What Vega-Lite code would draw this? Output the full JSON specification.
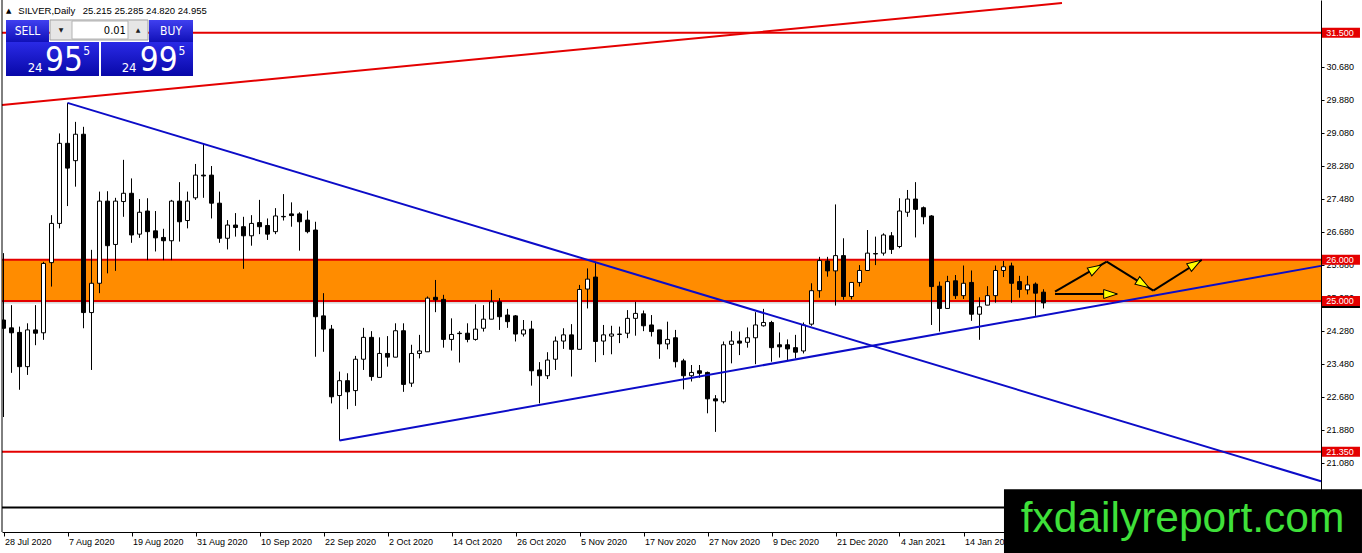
{
  "$schema": "https://vega.github.io/schema/vega-lite/v6.json",
  "width": 1319,
  "height": 532,
  "autosize": {"type": "none"},
  "padding": {"left": 2, "top": 0, "right": 41, "bottom": 21},
  "background": "#ffffff",
  "config": {
    "view": {"stroke": null},
    "font": "Liberation Sans",
    "scale": {"continuousPadding": 0},
    "axis": {"labelFont": "Liberation Sans", "labelFontSize": 9, "labelColor": "#000000", "tickColor": "#000000", "domainColor": "#000000", "grid": false, "labelOverlap": false},
    "axisX": {"labelOverlap": false},
    "axisY": {"labelOverlap": false}
  },
  "datasets": {
    "candles": [
      {"i":0,"o":24.54,"h":26.16,"l":22.19,"c":24.34},
      {"i":1,"o":24.35,"h":24.90,"l":23.26,"c":24.23},
      {"i":2,"o":24.24,"h":24.38,"l":22.85,"c":23.41},
      {"i":3,"o":23.41,"h":24.46,"l":23.21,"c":24.30},
      {"i":4,"o":24.30,"h":24.90,"l":23.93,"c":24.22},
      {"i":5,"o":24.23,"h":25.95,"l":24.06,"c":25.91},
      {"i":6,"o":25.93,"h":27.08,"l":25.35,"c":26.88},
      {"i":7,"o":26.88,"h":29.06,"l":26.76,"c":28.82},
      {"i":8,"o":28.82,"h":29.80,"l":27.30,"c":28.22},
      {"i":9,"o":28.40,"h":29.34,"l":27.77,"c":29.04},
      {"i":10,"o":29.04,"h":29.22,"l":24.34,"c":24.72},
      {"i":11,"o":24.72,"h":26.24,"l":23.33,"c":25.43},
      {"i":12,"o":25.43,"h":27.65,"l":25.19,"c":27.42},
      {"i":13,"o":27.42,"h":27.66,"l":25.67,"c":26.34},
      {"i":14,"o":26.37,"h":27.50,"l":25.73,"c":27.42},
      {"i":15,"o":27.41,"h":28.42,"l":27.04,"c":27.61},
      {"i":16,"o":27.61,"h":27.97,"l":26.41,"c":26.60},
      {"i":17,"o":26.62,"h":27.47,"l":26.53,"c":27.15},
      {"i":18,"o":27.18,"h":27.49,"l":25.99,"c":26.68},
      {"i":19,"o":26.70,"h":27.18,"l":26.20,"c":26.53},
      {"i":20,"o":26.54,"h":26.75,"l":25.99,"c":26.46},
      {"i":21,"o":26.46,"h":27.45,"l":25.99,"c":27.42},
      {"i":22,"o":27.42,"h":27.88,"l":26.44,"c":26.92},
      {"i":23,"o":26.95,"h":27.65,"l":26.76,"c":27.42},
      {"i":24,"o":27.50,"h":28.32,"l":27.45,"c":28.05},
      {"i":25,"o":28.05,"h":28.82,"l":27.50,"c":28.03},
      {"i":26,"o":28.05,"h":28.27,"l":27.00,"c":27.37},
      {"i":27,"o":27.37,"h":27.65,"l":26.41,"c":26.52},
      {"i":28,"o":26.52,"h":26.96,"l":26.25,"c":26.84},
      {"i":29,"o":26.84,"h":27.13,"l":26.56,"c":26.78},
      {"i":30,"o":26.80,"h":27.04,"l":25.78,"c":26.58},
      {"i":31,"o":26.58,"h":27.08,"l":26.34,"c":26.88},
      {"i":32,"o":26.90,"h":27.45,"l":26.62,"c":26.80},
      {"i":33,"o":26.83,"h":27.00,"l":26.48,"c":26.62},
      {"i":34,"o":26.68,"h":27.25,"l":26.62,"c":27.06},
      {"i":35,"o":27.05,"h":27.59,"l":26.95,"c":27.04},
      {"i":36,"o":27.11,"h":27.39,"l":26.80,"c":27.07},
      {"i":37,"o":27.11,"h":27.15,"l":26.22,"c":26.92},
      {"i":38,"o":26.96,"h":27.19,"l":26.64,"c":26.68},
      {"i":39,"o":26.72,"h":26.92,"l":23.65,"c":24.62},
      {"i":40,"o":24.64,"h":25.19,"l":23.77,"c":24.32},
      {"i":41,"o":24.32,"h":24.42,"l":22.52,"c":22.68},
      {"i":42,"o":22.71,"h":23.29,"l":21.62,"c":23.07},
      {"i":43,"o":23.07,"h":23.25,"l":22.38,"c":22.80},
      {"i":44,"o":22.83,"h":23.67,"l":22.46,"c":23.59},
      {"i":45,"o":23.59,"h":24.35,"l":23.33,"c":24.12},
      {"i":46,"o":24.12,"h":24.27,"l":23.07,"c":23.17},
      {"i":47,"o":23.15,"h":24.12,"l":23.15,"c":23.73},
      {"i":48,"o":23.73,"h":24.15,"l":23.41,"c":23.64},
      {"i":49,"o":23.64,"h":24.46,"l":23.64,"c":24.28},
      {"i":50,"o":24.28,"h":24.46,"l":22.80,"c":22.98},
      {"i":51,"o":23.01,"h":23.94,"l":22.92,"c":23.73},
      {"i":52,"o":23.73,"h":24.18,"l":23.61,"c":23.79},
      {"i":53,"o":23.77,"h":25.11,"l":23.77,"c":25.07},
      {"i":54,"o":25.09,"h":25.51,"l":24.73,"c":25.03},
      {"i":55,"o":25.04,"h":25.15,"l":23.87,"c":24.07},
      {"i":56,"o":24.07,"h":24.58,"l":23.80,"c":24.19},
      {"i":57,"o":24.22,"h":24.27,"l":23.51,"c":24.21},
      {"i":58,"o":24.22,"h":24.46,"l":24.00,"c":24.07},
      {"i":59,"o":24.07,"h":24.92,"l":24.04,"c":24.32},
      {"i":60,"o":24.34,"h":24.90,"l":24.26,"c":24.56},
      {"i":61,"o":24.56,"h":25.27,"l":24.56,"c":24.98},
      {"i":62,"o":24.98,"h":25.07,"l":24.30,"c":24.62},
      {"i":63,"o":24.66,"h":24.81,"l":24.35,"c":24.50},
      {"i":64,"o":24.64,"h":24.66,"l":24.02,"c":24.20},
      {"i":65,"o":24.20,"h":24.54,"l":24.14,"c":24.30},
      {"i":66,"o":24.32,"h":24.52,"l":22.95,"c":23.31},
      {"i":67,"o":23.33,"h":23.52,"l":22.52,"c":23.19},
      {"i":68,"o":23.19,"h":23.76,"l":23.11,"c":23.57},
      {"i":69,"o":23.59,"h":24.14,"l":23.33,"c":24.03},
      {"i":70,"o":24.03,"h":24.34,"l":23.84,"c":24.18},
      {"i":71,"o":24.18,"h":24.44,"l":23.17,"c":23.83},
      {"i":72,"o":23.83,"h":25.39,"l":23.83,"c":25.28},
      {"i":73,"o":25.29,"h":25.79,"l":24.82,"c":25.53},
      {"i":74,"o":25.58,"h":25.95,"l":23.52,"c":24.02},
      {"i":75,"o":24.03,"h":24.42,"l":23.69,"c":24.18},
      {"i":76,"o":24.15,"h":24.40,"l":23.71,"c":24.20},
      {"i":77,"o":24.19,"h":24.38,"l":23.98,"c":24.20},
      {"i":78,"o":24.22,"h":24.78,"l":24.10,"c":24.58},
      {"i":79,"o":24.58,"h":24.98,"l":24.16,"c":24.70},
      {"i":80,"o":24.69,"h":24.77,"l":24.27,"c":24.40},
      {"i":81,"o":24.42,"h":24.66,"l":24.14,"c":24.26},
      {"i":82,"o":24.30,"h":24.30,"l":23.60,"c":23.96},
      {"i":83,"o":23.96,"h":24.50,"l":23.83,"c":24.07},
      {"i":84,"o":24.11,"h":24.30,"l":23.39,"c":23.53},
      {"i":85,"o":23.55,"h":23.60,"l":22.86,"c":23.19},
      {"i":86,"o":23.19,"h":23.45,"l":23.05,"c":23.27},
      {"i":87,"o":23.31,"h":23.45,"l":23.14,"c":23.25},
      {"i":88,"o":23.27,"h":23.29,"l":22.28,"c":22.63},
      {"i":89,"o":22.63,"h":22.72,"l":21.83,"c":22.58},
      {"i":90,"o":22.56,"h":24.02,"l":22.52,"c":23.94},
      {"i":91,"o":23.95,"h":24.27,"l":23.49,"c":24.03},
      {"i":92,"o":24.03,"h":24.26,"l":23.69,"c":23.98},
      {"i":93,"o":24.00,"h":24.36,"l":23.87,"c":24.11},
      {"i":94,"o":24.11,"h":24.73,"l":23.47,"c":24.42},
      {"i":95,"o":24.40,"h":24.81,"l":24.38,"c":24.48},
      {"i":96,"o":24.48,"h":24.52,"l":23.53,"c":23.87},
      {"i":97,"o":23.94,"h":24.24,"l":23.63,"c":23.89},
      {"i":98,"o":23.94,"h":24.07,"l":23.57,"c":23.84},
      {"i":99,"o":23.87,"h":24.18,"l":23.61,"c":23.76},
      {"i":100,"o":23.79,"h":24.48,"l":23.73,"c":24.42},
      {"i":101,"o":24.44,"h":25.43,"l":24.40,"c":25.25},
      {"i":102,"o":25.25,"h":26.07,"l":25.08,"c":25.98},
      {"i":103,"o":25.97,"h":26.07,"l":25.59,"c":25.73},
      {"i":104,"o":25.73,"h":27.34,"l":24.89,"c":26.10},
      {"i":105,"o":26.10,"h":26.52,"l":25.03,"c":25.11},
      {"i":106,"o":25.11,"h":25.45,"l":25.04,"c":25.45},
      {"i":107,"o":25.45,"h":25.87,"l":25.35,"c":25.74},
      {"i":108,"o":25.74,"h":26.72,"l":25.74,"c":26.16},
      {"i":109,"o":26.15,"h":26.56,"l":25.87,"c":26.14},
      {"i":110,"o":26.16,"h":26.64,"l":26.10,"c":26.60},
      {"i":111,"o":26.58,"h":26.67,"l":26.14,"c":26.25},
      {"i":112,"o":26.32,"h":27.49,"l":26.28,"c":27.18},
      {"i":113,"o":27.15,"h":27.69,"l":27.04,"c":27.47},
      {"i":114,"o":27.47,"h":27.88,"l":26.54,"c":27.22},
      {"i":115,"o":27.26,"h":27.29,"l":26.86,"c":27.04},
      {"i":116,"o":27.06,"h":27.08,"l":24.42,"c":25.35},
      {"i":117,"o":25.36,"h":25.47,"l":24.26,"c":24.82},
      {"i":118,"o":24.82,"h":25.61,"l":24.82,"c":25.47},
      {"i":119,"o":25.49,"h":25.63,"l":25.05,"c":25.13},
      {"i":120,"o":25.13,"h":25.86,"l":25.05,"c":25.43},
      {"i":121,"o":25.45,"h":25.74,"l":24.52,"c":24.68},
      {"i":122,"o":24.68,"h":25.09,"l":24.06,"c":24.86},
      {"i":123,"o":24.90,"h":25.36,"l":24.90,"c":25.13},
      {"i":124,"o":25.13,"h":25.86,"l":24.96,"c":25.74},
      {"i":125,"o":25.74,"h":25.97,"l":25.58,"c":25.83},
      {"i":126,"o":25.85,"h":25.93,"l":24.96,"c":25.43},
      {"i":127,"o":25.47,"h":25.61,"l":25.08,"c":25.28},
      {"i":128,"o":25.27,"h":25.61,"l":25.16,"c":25.39},
      {"i":129,"o":25.41,"h":25.45,"l":24.64,"c":25.19},
      {"i":130,"o":25.215,"h":25.285,"l":24.82,"c":24.955}
    ],
    "levels": [{"p": 31.5}, {"p": 26.0}, {"p": 25.0}, {"p": 21.35}]
  },
  "layer": [
    {
      "data": {"values": [{}]},
      "mark": {"type": "rect", "color": "#ff8c00"},
      "encoding": {
        "x": {
          "datum": -0.1875, "type": "quantitative",
          "scale": {"domain": [-0.1875, 164.6875], "nice": false, "zero": false, "padding": 0},
          "axis": {
            "orient": "bottom", "title": null,
            "values": [0, 8, 16, 24, 32, 40, 48, 56, 64, 72, 80, 88, 96, 104, 112, 120],
            "labelExpr": "['28 Jul 2020','7 Aug 2020','19 Aug 2020','31 Aug 2020','10 Sep 2020','22 Sep 2020','2 Oct 2020','14 Oct 2020','26 Oct 2020','5 Nov 2020','17 Nov 2020','27 Nov 2020','9 Dec 2020','21 Dec 2020','4 Jan 2021','14 Jan 2021'][round(datum.value / 8)]",
            "tickSize": 4, "labelAlign": "left", "labelBaseline": "top", "labelPadding": 1, "labelOffset": 1,
            "labelFlush": false, "labelOverlap": false
          }
        },
        "x2": {"datum": 164.6875},
        "y": {
          "datum": 25.0, "type": "quantitative",
          "scale": {"domain": [19.4046, 32.292], "nice": false, "zero": false, "padding": 0},
          "axis": {
            "orient": "right", "title": null,
            "values": [30.68, 29.88, 29.08, 28.28, 27.48, 26.68, 25.88, 25.08, 24.28, 23.48, 22.68, 21.88, 21.08],
            "format": ".3f", "tickSize": 3, "labelPadding": 2, "labelAlign": "left", "labelBaseline": "middle",
            "labelFlush": false, "labelOverlap": false
          }
        },
        "y2": {"datum": 26.0}
      }
    },
    {
      "data": {"values": [{}]},
      "mark": {"type": "rule", "color": "#c0c0c0", "strokeWidth": 1},
      "encoding": {"y": {"datum": 24.955}}
    },
    {
      "data": {"name": "levels"},
      "mark": {"type": "rule", "color": "#e40000", "strokeWidth": 2},
      "encoding": {"y": {"field": "p", "type": "quantitative", "title": null, "axis": {"labelOverlap": false}}}
    },
    {
      "data": {"values": [{}]},
      "mark": {"type": "rule", "color": "#000000", "strokeWidth": 2},
      "encoding": {"y": {"datum": 20.0}}
    },
    {
      "data": {"name": "candles"},
      "mark": {"type": "rule", "color": "#000000", "strokeWidth": 1, "clip": true},
      "encoding": {
        "x": {"field": "i", "type": "quantitative", "title": null, "axis": {"labelOverlap": false}},
        "y": {"field": "l", "type": "quantitative", "title": null, "axis": {"labelOverlap": false}},
        "y2": {"field": "h"}
      }
    },
    {
      "data": {"name": "candles"},
      "mark": {"type": "bar", "orient": "vertical", "size": 4, "stroke": "#000000", "strokeWidth": 1, "clip": true},
      "encoding": {
        "x": {"field": "i", "type": "quantitative", "title": null, "axis": {"labelOverlap": false}},
        "y": {"field": "o", "type": "quantitative", "title": null, "axis": {"labelOverlap": false}},
        "y2": {"field": "c"},
        "fill": {"condition": {"test": "datum.c < datum.o", "value": "#000000"}, "value": "#ffffff"}
      }
    },
    {
      "data": {"values": [{}]},
      "mark": {"type": "rule", "color": "#e40000", "strokeWidth": 2},
      "encoding": {"x": {"datum": -0.1875}, "y": {"datum": 29.75}, "x2": {"datum": 132.31}, "y2": {"datum": 32.22}}
    },
    {
      "data": {"values": [{}]},
      "mark": {"type": "rule", "color": "#0c0cc8", "strokeWidth": 2},
      "encoding": {"x": {"datum": 8}, "y": {"datum": 29.80}, "x2": {"datum": 164.6875}, "y2": {"datum": 20.633}}
    },
    {
      "data": {"values": [{}]},
      "mark": {"type": "rule", "color": "#0c0cc8", "strokeWidth": 2},
      "encoding": {"x": {"datum": 42}, "y": {"datum": 21.62}, "x2": {"datum": 164.6875}, "y2": {"datum": 25.851}}
    },
    {
      "data": {"values": [{}]},
      "mark": {"type": "rule", "color": "#000000", "strokeWidth": 2},
      "encoding": {"x": {"datum": 131.44}, "y": {"datum": 25.226}, "x2": {"datum": 137.9}, "y2": {"datum": 25.953}}
    },
    {
      "data": {"values": [{}]},
      "mark": {"type": "rule", "color": "#000000", "strokeWidth": 2},
      "encoding": {"x": {"datum": 137.9}, "y": {"datum": 25.953}, "x2": {"datum": 143.73}, "y2": {"datum": 25.25}}
    },
    {
      "data": {"values": [{}]},
      "mark": {"type": "rule", "color": "#000000", "strokeWidth": 2},
      "encoding": {"x": {"datum": 143.73}, "y": {"datum": 25.25}, "x2": {"datum": 149.78}, "y2": {"datum": 25.994}}
    },
    {
      "data": {"values": [{}]},
      "mark": {"type": "rule", "color": "#000000", "strokeWidth": 2},
      "encoding": {"x": {"datum": 131.44}, "y": {"datum": 25.17}, "x2": {"datum": 139.15}, "y2": {"datum": 25.17}}
    },
    {
      "data": {"values": [{}]},
      "mark": {"type": "point", "shape": "M1,0L-1,-0.65L-1,0.65Z", "size": 190, "filled": true, "fill": "#ffff00", "stroke": "#000000", "strokeWidth": 1, "opacity": 1, "angle": -30},
      "encoding": {"x": {"datum": 136.5}, "y": {"datum": 25.788}}
    },
    {
      "data": {"values": [{}]},
      "mark": {"type": "point", "shape": "M1,0L-1,-0.65L-1,0.65Z", "size": 190, "filled": true, "fill": "#ffff00", "stroke": "#000000", "strokeWidth": 1, "opacity": 1, "angle": 32},
      "encoding": {"x": {"datum": 142.46}, "y": {"datum": 25.41}}
    },
    {
      "data": {"values": [{}]},
      "mark": {"type": "point", "shape": "M1,0L-1,-0.65L-1,0.65Z", "size": 190, "filled": true, "fill": "#ffff00", "stroke": "#000000", "strokeWidth": 1, "opacity": 1, "angle": -32},
      "encoding": {"x": {"datum": 148.93}, "y": {"datum": 25.899}}
    },
    {
      "data": {"values": [{}]},
      "mark": {"type": "point", "shape": "M1,0L-1,-0.65L-1,0.65Z", "size": 190, "filled": true, "fill": "#ffff00", "stroke": "#000000", "strokeWidth": 1, "opacity": 1, "angle": 0},
      "encoding": {"x": {"datum": 138.38}, "y": {"datum": 25.17}}
    },
    {
      "data": {"values": [{}]},
      "mark": {"type": "rule", "color": "#000000", "strokeWidth": 1},
      "encoding": {"x": {"datum": -0.1875}}
    },
    {
      "data": {"values": [{}]},
      "mark": {"type": "rect", "fill": {"gradient": "linear", "x1": 0, "y1": 0, "x2": 0, "y2": 1, "stops": [{"offset": 0, "color": "#4040f0"}, {"offset": 1, "color": "#1010b8"}]}},
      "encoding": {"x": {"datum": 0.3125}, "x2": {"datum": 5.6875}, "y": {"datum": 31.808}, "y2": {"datum": 31.275}}
    },
    {
      "data": {"values": [{}]},
      "mark": {"type": "rect", "fill": {"gradient": "linear", "x1": 0, "y1": 0, "x2": 0, "y2": 1, "stops": [{"offset": 0, "color": "#4040f0"}, {"offset": 1, "color": "#1010b8"}]}},
      "encoding": {"x": {"datum": 18.1875}, "x2": {"datum": 23.6875}, "y": {"datum": 31.808}, "y2": {"datum": 31.275}}
    },
    {
      "data": {"values": [{}]},
      "mark": {"type": "rect", "fill": {"gradient": "linear", "x1": 0, "y1": 0, "x2": 0, "y2": 1, "stops": [{"offset": 0, "color": "#2a2ae6"}, {"offset": 1, "color": "#0808a8"}]}},
      "encoding": {"x": {"datum": 0.3125}, "x2": {"datum": 11.9375}, "y": {"datum": 31.275}, "y2": {"datum": 30.451}}
    },
    {
      "data": {"values": [{}]},
      "mark": {"type": "rect", "fill": {"gradient": "linear", "x1": 0, "y1": 0, "x2": 0, "y2": 1, "stops": [{"offset": 0, "color": "#2a2ae6"}, {"offset": 1, "color": "#0808a8"}]}},
      "encoding": {"x": {"datum": 12.1875}, "x2": {"datum": 23.6875}, "y": {"datum": 31.275}, "y2": {"datum": 30.451}}
    },
    {
      "data": {"values": [{}]},
      "mark": {"type": "rect", "fill": "#e6e6e6", "stroke": "#a0a0a0", "strokeWidth": 1},
      "encoding": {"x": {"datum": 5.8125}, "x2": {"datum": 18.0625}, "y": {"datum": 31.808}, "y2": {"datum": 31.323}}
    },
    {
      "data": {"values": [{}]},
      "mark": {"type": "rect", "fill": "#ffffff", "stroke": "#b4b4b4", "strokeWidth": 1},
      "encoding": {"x": {"datum": 8.5625}, "x2": {"datum": 15.5625}, "y": {"datum": 31.783}, "y2": {"datum": 31.347}}
    },
    {
      "data": {"values": [{}]},
      "mark": {"type": "text", "text": "SELL", "font": "DejaVu Sans Condensed, Liberation Sans Narrow, Liberation Sans", "fontSize": 12, "color": "#ffffff", "align": "center", "baseline": "middle"},
      "encoding": {"x": {"datum": 3.0}, "y": {"datum": 31.541}}
    },
    {
      "data": {"values": [{}]},
      "mark": {"type": "text", "text": "BUY", "font": "DejaVu Sans Condensed, Liberation Sans Narrow, Liberation Sans", "fontSize": 12, "color": "#ffffff", "align": "center", "baseline": "middle"},
      "encoding": {"x": {"datum": 20.94}, "y": {"datum": 31.541}}
    },
    {
      "data": {"values": [{}]},
      "mark": {"type": "text", "text": "0.01", "font": "DejaVu Sans Condensed, Liberation Sans", "fontSize": 11, "color": "#000000", "align": "right", "baseline": "middle"},
      "encoding": {"x": {"datum": 15.3}, "y": {"datum": 31.553}}
    },
    {
      "data": {"values": [{}]},
      "mark": {"type": "text", "text": "▼", "font": "DejaVu Sans", "fontSize": 6, "color": "#202020", "align": "center", "baseline": "middle"},
      "encoding": {"x": {"datum": 7.19}, "y": {"datum": 31.565}}
    },
    {
      "data": {"values": [{}]},
      "mark": {"type": "text", "text": "▲", "font": "DejaVu Sans", "fontSize": 6, "color": "#202020", "align": "center", "baseline": "middle"},
      "encoding": {"x": {"datum": 16.81}, "y": {"datum": 31.565}}
    },
    {
      "data": {"values": [{}]},
      "mark": {"type": "text", "text": "24", "font": "DejaVu Sans Condensed, Liberation Sans", "fontSize": 13, "color": "#ffffff", "align": "center", "baseline": "alphabetic"},
      "encoding": {"x": {"datum": 3.95}, "y": {"datum": 30.555}}
    },
    {
      "data": {"values": [{}]},
      "mark": {"type": "text", "text": "95", "font": "Liberation Sans Narrow, DejaVu Sans Condensed", "fontSize": 33, "color": "#ffffff", "align": "center", "baseline": "alphabetic"},
      "encoding": {"x": {"datum": 7.55}, "y": {"datum": 30.579}}
    },
    {
      "data": {"values": [{}]},
      "mark": {"type": "text", "text": "5", "font": "DejaVu Sans Condensed, Liberation Sans", "fontSize": 12, "color": "#ffffff", "align": "center", "baseline": "alphabetic"},
      "encoding": {"x": {"datum": 10.4}, "y": {"datum": 30.96}}
    },
    {
      "data": {"values": [{}]},
      "mark": {"type": "text", "text": "24", "font": "DejaVu Sans Condensed, Liberation Sans", "fontSize": 13, "color": "#ffffff", "align": "center", "baseline": "alphabetic"},
      "encoding": {"x": {"datum": 15.7}, "y": {"datum": 30.555}}
    },
    {
      "data": {"values": [{}]},
      "mark": {"type": "text", "text": "99", "font": "Liberation Sans Narrow, DejaVu Sans Condensed", "fontSize": 33, "color": "#ffffff", "align": "center", "baseline": "alphabetic"},
      "encoding": {"x": {"datum": 19.4}, "y": {"datum": 30.579}}
    },
    {
      "data": {"values": [{}]},
      "mark": {"type": "text", "text": "5", "font": "DejaVu Sans Condensed, Liberation Sans", "fontSize": 12, "color": "#ffffff", "align": "center", "baseline": "alphabetic"},
      "encoding": {"x": {"datum": 22.3}, "y": {"datum": 30.96}}
    },
    {
      "data": {"values": [{}]},
      "mark": {"type": "text", "text": "▲", "font": "DejaVu Sans", "fontSize": 7, "color": "#000000", "align": "center", "baseline": "middle"},
      "encoding": {"x": {"datum": 0.65}, "y": {"datum": 32.033}}
    },
    {
      "data": {"values": [{}]},
      "mark": {"type": "text", "text": "SILVER,Daily", "font": "Liberation Sans", "fontSize": 9.5, "color": "#000000", "align": "left", "baseline": "middle"},
      "encoding": {"x": {"datum": 1.85}, "y": {"datum": 32.033}}
    },
    {
      "data": {"values": [{}]},
      "mark": {"type": "text", "text": "25.215 25.285 24.820 24.955", "font": "Liberation Sans", "fontSize": 9.5, "color": "#000000", "align": "left", "baseline": "middle"},
      "encoding": {"x": {"datum": 9.9}, "y": {"datum": 32.033}}
    },
    {
      "data": {"values": [{}]},
      "mark": {"type": "bar", "orient": "horizontal", "size": 10, "color": "#000000"},
      "encoding": {"x": {"datum": 164.81}, "x2": {"datum": 169.56}, "y": {"datum": 24.955}}
    },
    {
      "data": {"name": "levels"},
      "mark": {"type": "bar", "orient": "horizontal", "size": 10, "color": "#e40000"},
      "encoding": {"x": {"datum": 164.81}, "x2": {"datum": 169.56}, "y": {"field": "p", "type": "quantitative", "title": null, "axis": {"labelOverlap": false}}}
    },
    {
      "data": {"name": "levels"},
      "mark": {"type": "text", "font": "Liberation Sans", "fontSize": 9, "color": "#ffffff", "align": "left", "baseline": "middle"},
      "encoding": {
        "x": {"datum": 165.35},
        "y": {"field": "p", "type": "quantitative", "title": null, "axis": {"labelOverlap": false}},
        "text": {"field": "p", "type": "quantitative", "format": ".3f"}
      }
    },
    {
      "data": {"values": [{}]},
      "mark": {"type": "rect", "color": "#000000"},
      "encoding": {"x": {"datum": 125.06}, "x2": {"datum": 169.81}, "y": {"datum": 20.44}, "y2": {"datum": 18.89}}
    },
    {
      "data": {"values": [{}]},
      "mark": {"type": "text", "text": "fxdailyreport.com", "font": "Liberation Sans", "fontSize": 42.5, "color": "#3fe03a", "align": "center", "baseline": "alphabetic"},
      "encoding": {"x": {"datum": 147.375}, "y": {"datum": 19.412}}
    }
  ]
}
